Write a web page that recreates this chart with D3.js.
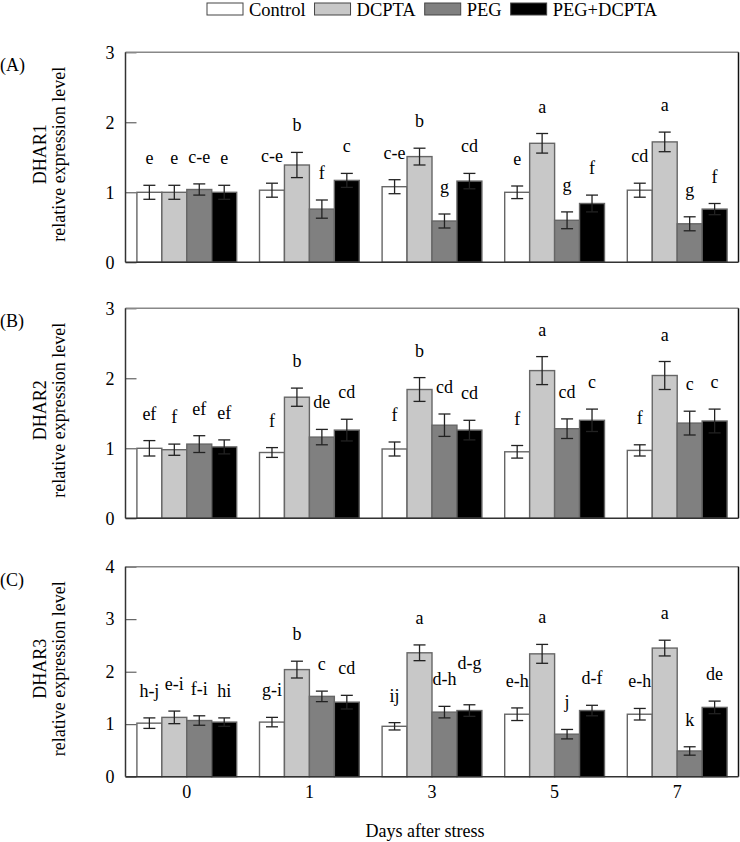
<!DOCTYPE html>
<html>
<head>
<meta charset="utf-8">
<script src="https://cdn.jsdelivr.net/npm/d3@7"></script>
<style>
  html, body { margin: 0; padding: 0; background: #fff; }
  svg { display: block; }
  svg text { font-family: "Liberation Serif", "Times New Roman", "DejaVu Serif", serif !important; font-size: 18px; fill: #000; }
</style>
</head>
<body>
<svg id="chart" width="740" height="842"></svg>
<script>
// ---------- data ----------
const days = ["0", "1", "3", "5", "7"];
const treatments = ["Control", "DCPTA", "PEG", "PEG+DCPTA"];

// DHAR1 (panel A): values per treatment, indexed by day
const dhar1Control = [1.00, 1.03, 1.08, 1.00, 1.03];
const dhar1DCPTA   = [1.00, 1.39, 1.51, 1.70, 1.72];
const dhar1PEG     = [1.04, 0.76, 0.59, 0.60, 0.55];
const dhar1PEGDC   = [1.00, 1.17, 1.16, 0.84, 0.76];
const dhar1ErrControl = [0.10, 0.10, 0.10, 0.09, 0.10];
const dhar1ErrDCPTA   = [0.10, 0.18, 0.12, 0.14, 0.14];
const dhar1ErrPEG     = [0.08, 0.13, 0.10, 0.12, 0.10];
const dhar1ErrPEGDC   = [0.10, 0.10, 0.11, 0.12, 0.08];
const dhar1Letters = [["e","e","c-e","e"],["c-e","b","f","c"],["c-e","b","g","cd"],["e","a","g","f"],["cd","a","g","f"]];

// DHAR2 (panel B)
const dhar2Control = [1.00, 0.94, 0.99, 0.95, 0.97];
const dhar2DCPTA   = [0.98, 1.73, 1.84, 2.11, 2.04];
const dhar2PEG     = [1.06, 1.16, 1.33, 1.28, 1.36];
const dhar2PEGDC   = [1.02, 1.26, 1.26, 1.40, 1.39];
const dhar2ErrControl = [0.11, 0.07, 0.10, 0.09, 0.08];
const dhar2ErrDCPTA   = [0.08, 0.13, 0.17, 0.20, 0.20];
const dhar2ErrPEG     = [0.12, 0.11, 0.16, 0.14, 0.17];
const dhar2ErrPEGDC   = [0.10, 0.155, 0.14, 0.16, 0.17];
const dhar2Letters = [["ef","f","ef","ef"],["f","b","de","cd"],["f","b","cd","cd"],["f","a","cd","c"],["f","a","c","c"]];

// DHAR3 (panel C)
const dhar3Control = [1.02, 1.04, 0.96, 1.19, 1.19];
const dhar3DCPTA   = [1.13, 2.04, 2.36, 2.34, 2.45];
const dhar3PEG     = [1.07, 1.53, 1.23, 0.81, 0.49];
const dhar3PEGDC   = [1.04, 1.42, 1.26, 1.26, 1.32];
const dhar3ErrControl = [0.10, 0.09, 0.07, 0.12, 0.11];
const dhar3ErrDCPTA   = [0.12, 0.16, 0.15, 0.18, 0.15];
const dhar3ErrPEG     = [0.09, 0.10, 0.11, 0.09, 0.08];
const dhar3ErrPEGDC   = [0.08, 0.13, 0.11, 0.10, 0.12];
const dhar3Letters = [["h-j","e-i","f-i","hi"],["g-i","b","c","cd"],["ij","a","d-h","d-g"],["e-h","a","j","d-f"],["e-h","a","k","de"]];

const ticks3 = [0, 1, 2, 3];
const ticks4 = [0, 1, 2, 3, 4];
const xTitle = "Days after stress";

// ---------- layout ----------
const colors = {"Control": "#ffffff", "DCPTA": "#c8c8c8", "PEG": "#808080", "PEG+DCPTA": "#000000"};
const left = 125.5, right = 738.5;
const FONT = "'Liberation Serif', 'Times New Roman', serif";

const panels = [
  { tag: "(A)", gene: "DHAR1", top: 52.3, bottom: 262.3, max: 3, ticks: ticks3,
    vals: [dhar1Control, dhar1DCPTA, dhar1PEG, dhar1PEGDC],
    errs: [dhar1ErrControl, dhar1ErrDCPTA, dhar1ErrPEG, dhar1ErrPEGDC], letters: dhar1Letters, xlab: false },
  { tag: "(B)", gene: "DHAR2", top: 308.3, bottom: 518.3, max: 3, ticks: ticks3,
    vals: [dhar2Control, dhar2DCPTA, dhar2PEG, dhar2PEGDC],
    errs: [dhar2ErrControl, dhar2ErrDCPTA, dhar2ErrPEG, dhar2ErrPEGDC], letters: dhar2Letters, xlab: false },
  { tag: "(C)", gene: "DHAR3", top: 566.7, bottom: 776.7, max: 4, ticks: ticks4,
    vals: [dhar3Control, dhar3DCPTA, dhar3PEG, dhar3PEGDC],
    errs: [dhar3ErrControl, dhar3ErrDCPTA, dhar3ErrPEG, dhar3ErrPEGDC], letters: dhar3Letters, xlab: true }
];

const svg = d3.select("#chart");

const x0 = d3.scaleBand().domain(days).range([left, right]).paddingInner(0.186).paddingOuter(0.093);
const x1 = d3.scaleBand().domain(treatments).range([0, x0.bandwidth()]);

function txt(sel) {
  return sel.style("font-family", FONT).style("font-size", "18px").style("fill", "#000");
}

panels.forEach(p => {
  const y = d3.scaleLinear().domain([0, p.max]).range([p.bottom, p.top]);
  const g = svg.append("g");

  const recs = [];
  days.forEach((d, di) => {
    treatments.forEach((t, ti) => {
      recs.push({ day: d, trt: t, v: p.vals[ti][di], e: p.errs[ti][di], lab: p.letters[di][ti] });
    });
  });

  // y axis ticks (inward) + labels
  const yAxis = d3.axisLeft(y).tickValues(p.ticks).tickFormat(d3.format("d"))
    .tickSizeInner(-11).tickSizeOuter(0).tickPadding(11);
  const ya = g.append("g").attr("transform", `translate(${left},0)`).call(yAxis)
    .attr("font-family", null).attr("font-size", null);
  ya.select(".domain").remove();
  ya.selectAll(".tick line").attr("stroke", "#444").attr("stroke-width", 1);
  txt(ya.selectAll(".tick text"));

  // bars
  g.selectAll("rect.bar").data(recs).join("rect")
    .attr("class", "bar")
    .attr("x", d => x0(d.day) + x1(d.trt))
    .attr("y", d => y(d.v))
    .attr("width", x1.bandwidth())
    .attr("height", d => y(0) - y(d.v))
    .attr("fill", d => colors[d.trt])
    .attr("stroke", "#666")
    .attr("stroke-width", 1.4);

  // error bars
  const cx = d => x0(d.day) + x1(d.trt) + x1.bandwidth() / 2;
  const eg = g.append("g").attr("stroke", "#222").attr("stroke-width", 1.3);
  eg.selectAll("line.v").data(recs).join("line").attr("class", "v")
    .attr("x1", cx).attr("x2", cx).attr("y1", d => y(d.v + d.e)).attr("y2", d => y(d.v - d.e));
  eg.selectAll("line.t").data(recs).join("line").attr("class", "t")
    .attr("x1", d => cx(d) - 6).attr("x2", d => cx(d) + 6).attr("y1", d => y(d.v + d.e)).attr("y2", d => y(d.v + d.e));
  eg.selectAll("line.b").data(recs).join("line").attr("class", "b")
    .attr("x1", d => cx(d) - 6).attr("x2", d => cx(d) + 6).attr("y1", d => y(d.v - d.e)).attr("y2", d => y(d.v - d.e));

  // significance letters
  const labs = txt(g.selectAll("text.lab").data(recs).join("text").attr("class", "lab")
    .attr("x", cx).attr("y", d => y(d.v + d.e) - 21)
    .attr("text-anchor", "middle")
    .text(d => d.lab));

  // simple collision avoidance: lift a label above its left neighbour if they overlap
  const nodes = labs.nodes();
  for (let i = 1; i < nodes.length; i++) {
    if (i % treatments.length === 0) continue;
    const a = nodes[i - 1].getBBox();
    const b = nodes[i].getBBox();
    const hOverlap = b.x < a.x + a.width + 2;
    const vOverlap = b.y < a.y + a.height && b.y + b.height > a.y;
    if (hOverlap && vOverlap) {
      const curY = +nodes[i].getAttribute("y");
      const shift = (b.y + b.height) - a.y - 4;
      nodes[i].setAttribute("y", curY - shift);
    }
  }

  // frame
  g.append("line").attr("x1", left).attr("x2", right).attr("y1", p.top).attr("y2", p.top).attr("stroke", "#888").attr("stroke-width", 1.5);
  g.append("line").attr("x1", right).attr("x2", right).attr("y1", p.top).attr("y2", p.bottom).attr("stroke", "#111").attr("stroke-width", 1.5);
  g.append("line").attr("x1", left).attr("x2", left).attr("y1", p.top).attr("y2", p.bottom).attr("stroke", "#333").attr("stroke-width", 1.5);
  g.append("line").attr("x1", left).attr("x2", right).attr("y1", p.bottom).attr("y2", p.bottom).attr("stroke", "#333").attr("stroke-width", 1.5);

  // y titles
  const cy = (p.top + p.bottom) / 2 - 3;
  txt(g.append("text").attr("transform", `translate(46,${cy}) rotate(-90)`)
    .attr("text-anchor", "middle").text(p.gene));
  txt(g.append("text").attr("transform", `translate(65,${cy}) rotate(-90)`)
    .attr("text-anchor", "middle").text("relative expression level"));

  // panel tag
  txt(g.append("text").attr("x", 0).attr("y", p.top + 19).text(p.tag));

  // x labels
  if (p.xlab) {
    const xa = g.append("g").attr("transform", `translate(0,${p.bottom})`)
      .call(d3.axisBottom(x0).tickSize(0).tickPadding(8.5))
      .attr("font-family", null).attr("font-size", null);
    xa.select(".domain").remove();
    txt(xa.selectAll(".tick text"));
  }
});

// x title
txt(svg.append("text").attr("x", 425).attr("y", 837).attr("text-anchor", "middle").text(xTitle));

// legend
const leg = svg.append("g").attr("transform", "translate(207,0)");
let lx = 0;
treatments.forEach(t => {
  leg.append("rect").attr("x", lx).attr("y", 3).attr("width", 36).attr("height", 12)
    .attr("fill", colors[t]).attr("stroke", "#444").attr("stroke-width", 1);
  const tx = txt(leg.append("text").attr("x", lx + 42).attr("y", 16).text(t)).style("font-size", "18.5px");
  lx += 42 + tx.node().getComputedTextLength() + 9;
});
</script>
</body>
</html>
